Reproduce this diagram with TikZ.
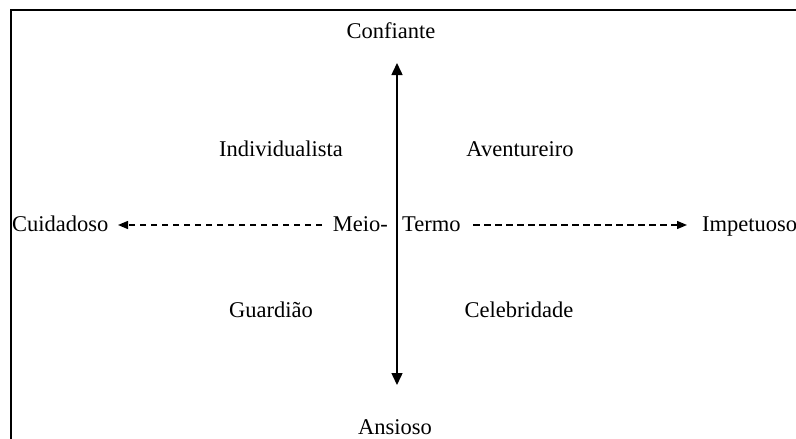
\documentclass[tikz,border=0pt]{standalone}
\usepackage{fontspec}
\setmainfont{Liberation Serif}
\usetikzlibrary{arrows.meta}
\begin{document}
\begin{tikzpicture}[x=1pt,y=-1pt,
  lbl/.style={font=\fontsize{22.5}{27}\selectfont, inner sep=0pt, anchor=base},
  axis/.style={line width=1.5pt, -{Triangle[length=12pt,width=11pt]}},
  dashaxis/.style={line width=1.3pt, dash pattern=on 6.5pt off 4.5pt, -{Triangle[length=10pt,width=8pt]}},
  frameline/.style={line width=1.3pt}]
\useasboundingbox (0,0) rectangle (796,439);
\fill[white] (0,0) rectangle (796,439);
% frame (top and left edges)
\coordinate (fr1) at (796,10);
\coordinate (fr2) at (11,10);
\coordinate (fr3) at (11,439);
\draw[frameline] (fr1) -- (fr2) -- (fr3);
% labels
\node[lbl] (conf) at (391,38) {Confiante};
\node[lbl] (ansi) at (395,434) {Ansioso};
\node[lbl] (indiv) at (281,156) {Individualista};
\node[lbl] (avent) at (520,156) {Aventureiro};
\node[lbl] (guard) at (271,317) {Guardião};
\node[lbl] (celeb) at (519,317) {Celebridade};
\node[lbl, anchor=base west] (cuid) at (12,231) {Cuidadoso};
\node[lbl, anchor=base east] (meio) at (388,231) {Meio-};
\node[lbl, anchor=base west] (termo) at (402,231) {Termo};
\node[lbl, anchor=base west] (impet) at (702,231) {Impetuoso};
% vertical axis
\coordinate (vtop) at (397,63);
\coordinate (vbot) at (397,385);
\draw[axis] (397,224) -- (vtop);
\draw[axis] (397,224) -- (vbot);
% horizontal dashed axes
\coordinate (lstart) at (322,225);
\coordinate (ltip) at (118,225);
\coordinate (rstart) at (473,225);
\coordinate (rtip) at (687,225);
\draw[dashaxis] (lstart) -- (ltip);
\draw[dashaxis] (rstart) -- (rtip);
\end{tikzpicture}
\end{document}
